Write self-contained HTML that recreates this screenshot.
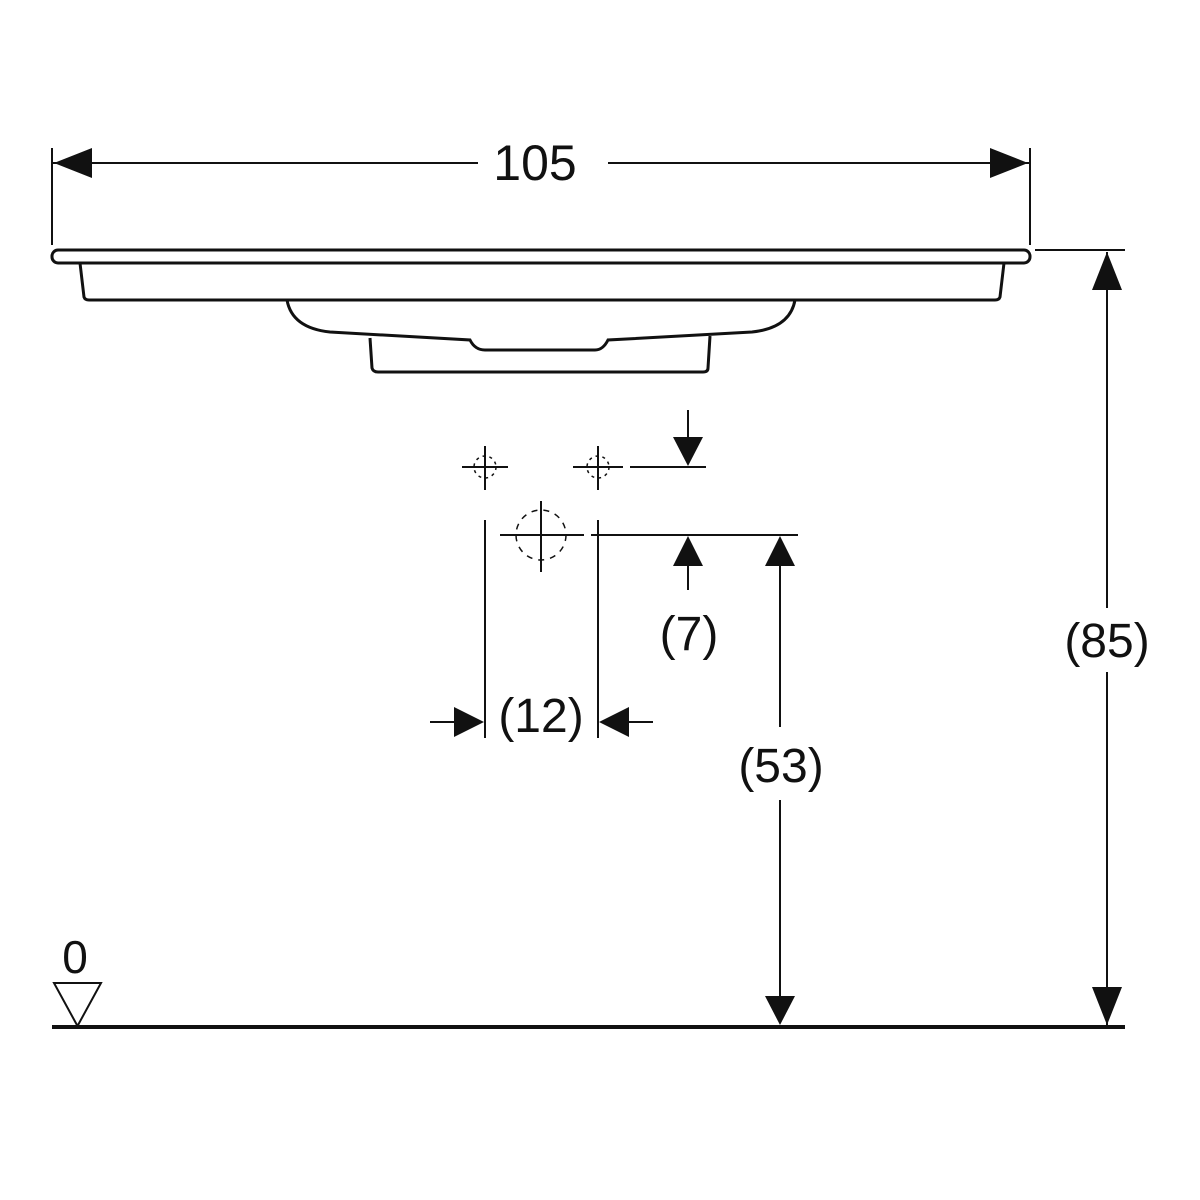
<!DOCTYPE html>
<html><head><style>html,body{margin:0;padding:0;background:#fff}svg{display:block}</style></head>
<body>
<svg width="1200" height="1200" viewBox="0 0 1200 1200" xmlns="http://www.w3.org/2000/svg" font-family="Liberation Sans, sans-serif" fill="none" stroke="#111">
<!-- 105 dimension -->
<line x1="52" y1="148" x2="52" y2="245" stroke-width="2"/>
<line x1="1030" y1="148" x2="1030" y2="245" stroke-width="2"/>
<line x1="52" y1="163" x2="478" y2="163" stroke-width="2"/>
<line x1="608" y1="163" x2="1030" y2="163" stroke-width="2"/>
<polygon points="54,163 92,148 92,178" fill="#111" stroke="none"/>
<polygon points="1028,163 990,148 990,178" fill="#111" stroke="none"/>
<text x="535" y="180" font-size="50" text-anchor="middle" fill="#111" stroke="none">105</text>
<!-- basin -->
<rect x="52" y="250" width="978" height="13" rx="6" stroke-width="3"/>
<path d="M80 263 L84 297 Q85 300 89 300 L995 300 Q999 300 1000 297 L1004 263" stroke-width="3"/>
<path d="M287 300 Q292 328 330 332 L470 340 Q475 350 485 350 L595 350 Q603 350 608 340 L752 332 Q790 328 795 300" stroke-width="3"/>
<path d="M370 338 L372 368 Q373 372 378 372 L703 372 Q708 372 708 368 L710 336" stroke-width="3"/>
<!-- 85 -->
<line x1="1035" y1="250" x2="1125" y2="250" stroke-width="2"/>
<line x1="1107" y1="252" x2="1107" y2="608" stroke-width="2"/>
<line x1="1107" y1="672" x2="1107" y2="1025" stroke-width="2"/>
<polygon points="1107,252 1092,290 1122,290" fill="#111" stroke="none"/>
<polygon points="1107,1025 1092,987 1122,987" fill="#111" stroke="none"/>
<text x="1107" y="657" font-size="48" text-anchor="middle" fill="#111" stroke="none">(85)</text>
<!-- ground -->
<line x1="52" y1="1027" x2="1125" y2="1027" stroke-width="4"/>
<polygon points="54,983 101,983 77.5,1026" stroke-width="2"/>
<text x="75" y="973" font-size="46" text-anchor="middle" fill="#111" stroke="none">0</text>
<!-- small crosses -->
<g stroke-width="2">
<line x1="462" y1="467" x2="508" y2="467"/><line x1="485" y1="446" x2="485" y2="490"/>
<circle cx="485" cy="467" r="11" stroke-dasharray="3 4" stroke-width="1.5"/>
<line x1="573" y1="467" x2="623" y2="467"/><line x1="598" y1="446" x2="598" y2="490"/>
<circle cx="598" cy="467" r="11" stroke-dasharray="3 4" stroke-width="1.5"/>
<line x1="630" y1="467" x2="706" y2="467"/>
<line x1="688" y1="410" x2="688" y2="440"/>
<!-- big circle -->
<line x1="500" y1="535" x2="584" y2="535"/><line x1="541" y1="501" x2="541" y2="572"/>
<circle cx="541" cy="535" r="25" stroke-dasharray="6 6" stroke-width="1.5"/>
<line x1="591" y1="535" x2="798" y2="535"/>
<!-- 12 -->
<line x1="485" y1="520" x2="485" y2="738"/>
<line x1="598" y1="520" x2="598" y2="738"/>
<line x1="430" y1="722" x2="455" y2="722"/>
<line x1="628" y1="722" x2="653" y2="722"/>
<!-- 7 -->
<line x1="688" y1="565" x2="688" y2="590"/>
<!-- 53 -->
<line x1="780" y1="565" x2="780" y2="727"/>
<line x1="780" y1="800" x2="780" y2="1000"/>
</g>
<polygon points="688,466 673,437 703,437" fill="#111" stroke="none"/>
<polygon points="688,536 673,566 703,566" fill="#111" stroke="none"/>
<polygon points="780,536 765,566 795,566" fill="#111" stroke="none"/>
<polygon points="780,1025 765,996 795,996" fill="#111" stroke="none"/>
<polygon points="484,722 454,707 454,737" fill="#111" stroke="none"/>
<polygon points="599,722 629,707 629,737" fill="#111" stroke="none"/>
<text x="689" y="650" font-size="48" text-anchor="middle" fill="#111" stroke="none">(7)</text>
<text x="541" y="732" font-size="48" text-anchor="middle" fill="#111" stroke="none">(12)</text>
<text x="781" y="782" font-size="48" text-anchor="middle" fill="#111" stroke="none">(53)</text>
</svg>
</body></html>
